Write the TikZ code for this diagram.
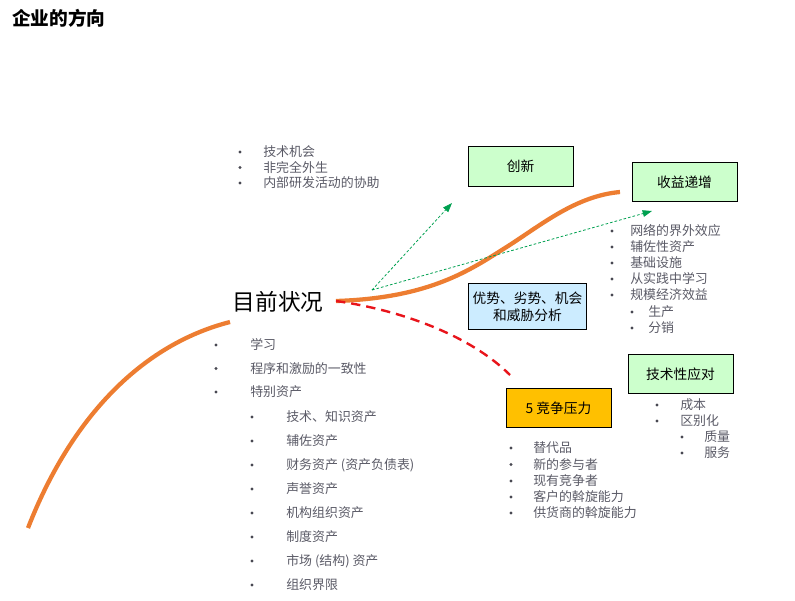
\documentclass[tikz,border=0pt]{standalone}
\usepackage{fontspec}
\setmainfont{Noto Sans CJK SC}
\usetikzlibrary{arrows.meta}
\definecolor{curvecol}{HTML}{ED7D31}
\definecolor{txtgray}{HTML}{5A5A66}
\definecolor{hintgreen}{HTML}{00A050}
\definecolor{riskred}{HTML}{E8141B}
\definecolor{boxgreen}{HTML}{CCFFCC}
\definecolor{boxblue}{HTML}{CCECFF}
\definecolor{boxgold}{HTML}{FFC000}
\tikzset{box/.style={draw, line width=0.65pt, minimum width=78.75pt, minimum height=29.5pt, inner sep=1pt,
    align=center, font=\fontsize{10.3}{12.5}\selectfont},
  curve/.style={curvecol, line width=3.2pt},
  risk/.style={riskred, line width=1.8pt, dash pattern=on 7pt off 4.5pt},
  hint/.style={-{Triangle[length=7pt,width=5pt]}, hintgreen, line width=0.6pt, dash pattern=on 2pt off 1.5pt},
  lab/.style={anchor=west, inner sep=0pt, text=txtgray, font=\fontsize{9.7}{11}\selectfont},
  dot/.style={circle, fill=txtgray!80!black, inner sep=0pt, minimum size=2.4pt}}

\begin{document}
\begin{tikzpicture}[x=0.75pt, y=-0.75pt]
  \useasboundingbox (0,0) rectangle (795,600);
  \node[anchor=west, inner sep=0pt, font=\fontsize{14}{16}\selectfont\bfseries] (title) at (12,18) {企业的方向};
  % growth path, broken by the label
  \coordinate (start) at (28,528);
  \coordinate (hide) at (230,322);
  \coordinate (fork) at (336,301);
  \coordinate (top) at (620,192);
  \draw[curve] (start) .. controls (70,420) and (140,345) .. (hide);
  \draw[curve] (fork) .. controls (430,298) and (470,270) .. (505,248) .. controls (540,226) and (575,196) .. (top);
  \node[font=\fontsize{17}{20}\selectfont] (now) at (278,302) {目前状况};
  % downward branch
  \coordinate (rtip) at (510,375);
  \draw[risk] (fork) .. controls (400,310) and (470,335) .. (rtip);
  % hints towards innovation and returns
  \coordinate (src) at (372,290);
  \coordinate (tipA) at (452,203);
  \coordinate (tipB) at (652,211);
  \draw[hint] (src) -- (tipA);
  \draw[hint] (src) -- (tipB);
  % boxes
  \node[box, fill=boxgreen] (inno) at (520.5,166.5) {创新};
  \node[box, fill=boxgreen] (incr) at (684.5,182) {收益递增};
  \node[box, fill=boxblue, minimum width=89pt, minimum height=35pt] (swot) at (527.5,306.5) {优势、劣势、机会\\和威胁分析};
  \node[box, fill=boxgreen] (tech) at (680.5,374) {技术性应对};
  \node[box, fill=boxgold] (comp) at (558.5,408) {5 竞争压力};
  % innovation sources
  \foreach \y/\t [count=\i] in {152/技术机会, 167.5/非完全外生, 183/内部研发活动的协助} {
    \node[dot] (da\i) at (240,\y) {};
    \node[lab] (la\i) at (263,\y) {\t};
  }
  % increasing returns
  \foreach \y/\t [count=\i] in {231/网络的界外效应, 247/辅佐性资产, 263/基础设施, 279/从实践中学习, 295/规模经济效益} {
    \node[dot] (db\i) at (612,\y) {};
    \node[lab] (lb\i) at (630,\y) {\t};
  }
  \foreach \y/\t [count=\i] in {312/生产, 328/分销} {
    \node[dot] (dbs\i) at (632,\y) {};
    \node[lab] (lbs\i) at (648,\y) {\t};
  }
  % current position
  \foreach \y/\t [count=\i] in {345/学习, 368.5/程序和激励的一致性, 392/特别资产} {
    \node[dot] (dc\i) at (216,\y) {};
    \node[lab] (lc\i) at (250,\y) {\t};
  }
  \foreach \y/\t [count=\i] in {417/{技术、知识资产}, 441/辅佐资产, 465/{财务资产 (资产负债表)}, 489/声誉资产,
      513/机构组织资产, 537/制度资产, 561/{市场 (结构) 资产}, 585/组织界限} {
    \node[dot] (dcs\i) at (252,\y) {};
    \node[lab] (lcs\i) at (286,\y) {\t};
  }
  % five forces
  \foreach \y/\t [count=\i] in {448/替代品, 464.5/新的参与者, 481/现有竞争者, 497/客户的斡旋能力, 513/供货商的斡旋能力} {
    \node[dot] (dd\i) at (511,\y) {};
    \node[lab] (ld\i) at (533,\y) {\t};
  }
  % technical response
  \foreach \y/\t [count=\i] in {405/成本, 421/区别化} {
    \node[dot] (de\i) at (657,\y) {};
    \node[lab] (le\i) at (680,\y) {\t};
  }
  \foreach \y/\t [count=\i] in {437/质量, 453/服务} {
    \node[dot] (des\i) at (682,\y) {};
    \node[lab] (les\i) at (704,\y) {\t};
  }
\end{tikzpicture}
\end{document}
